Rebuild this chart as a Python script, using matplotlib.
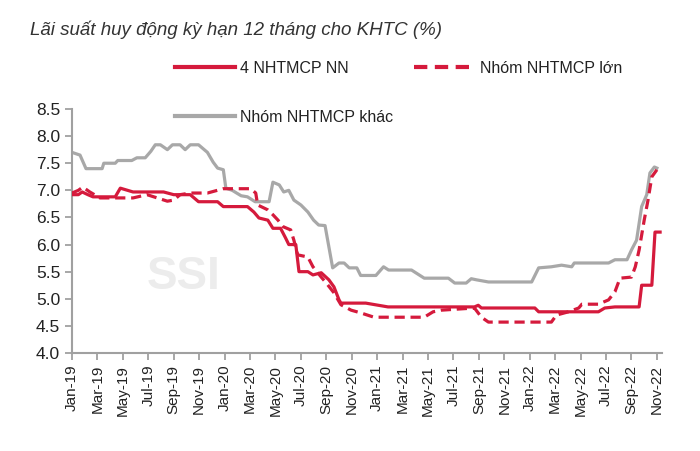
import numpy as np
import matplotlib.pyplot as plt

# số tháng tính từ Jan-19 (0 = đầu tháng 1/2019)
nn_m = [0, 0.5, 0.8, 1.25, 1.65, 3.4, 3.8, 4.8, 7.2, 8.0, 9.3, 9.95, 11.45, 11.9, 13.8, 14.3,
        14.7, 15.4, 15.8, 16.4, 16.8, 17.05, 17.6, 17.85, 18.55, 18.95, 19.6, 20.2, 20.6, 21.0,
        21.15, 23.1, 24.85, 31.65, 31.95, 32.2, 36.4, 36.7, 41.4, 41.9, 42.7, 44.6, 44.8, 45.6,
        45.85, 46.25]
nn_v = [6.92, 6.92, 6.97, 6.92, 6.88, 6.88, 7.04, 6.97, 6.97, 6.92, 6.92, 6.79, 6.79, 6.70, 6.70, 6.60,
        6.49, 6.45, 6.30, 6.30, 6.12, 6.00, 6.00, 5.50, 5.50, 5.44, 5.48, 5.35, 5.22, 4.98,
        4.92, 4.92, 4.85, 4.85, 4.88, 4.83, 4.83, 4.76, 4.76, 4.83, 4.85, 4.85, 5.25, 5.25,
        6.23, 6.23]

lon_m = [0, 0.5, 0.85, 1.4, 2.2, 4.8, 5.9, 6.7, 7.5, 8.0, 8.5, 9.3, 10.65, 11.9, 14.05, 14.45,
         14.6, 15.4, 15.8, 16.2, 16.6, 17.2, 17.45, 17.75, 18.55, 18.95, 19.6, 20.0, 20.6, 21.15,
         21.95, 22.7, 23.75, 27.7, 28.4, 29.05, 31.65, 32.2, 32.75, 37.7, 38.1, 39.05, 39.85, 40.1,
         41.4, 42.2, 42.7, 43.1, 44.0, 44.3, 44.6, 45.0, 45.3, 45.6, 46.0]
lon_v = [6.95, 7.00, 7.06, 6.97, 6.86, 6.86, 6.92, 6.86, 6.80, 6.82, 6.92, 6.95, 6.95, 7.03, 7.03, 6.95,
         6.73, 6.64, 6.55, 6.45, 6.33, 6.27, 6.08, 5.81, 5.77, 5.59, 5.40, 5.29, 5.11, 4.89,
         4.79, 4.74, 4.66, 4.66, 4.76, 4.79, 4.83, 4.66, 4.57, 4.57, 4.70, 4.76, 4.83, 4.90,
         4.90, 4.98, 5.13, 5.38, 5.40, 5.59, 5.90, 6.45, 6.82, 7.25, 7.38]

khac_m = [0, 0.63, 1.1, 2.37, 2.5, 3.4, 3.6, 4.7, 5.1, 5.76, 6.2, 6.55, 6.95, 7.5, 7.9, 8.5, 8.9,
          9.3, 9.95, 10.65, 11.1, 11.45, 11.9, 12.1, 12.6, 13.3, 13.8, 14.4, 15.5, 15.8, 16.3,
          16.65, 17.05, 17.45, 18.0, 18.55, 19.0, 19.4, 19.9, 20.5, 21.0, 21.4, 21.8, 22.4, 22.7,
          23.9, 24.5, 24.9, 26.7, 27.7, 29.6, 30.1, 31.0, 31.4, 31.8, 32.75, 36.15, 36.7, 37.7,
          38.5, 39.3, 39.5, 42.2, 42.7, 43.65, 44.0, 44.4, 44.8, 45.2, 45.45, 45.8, 46.0]
khac_v = [7.70, 7.65, 7.40, 7.40, 7.50, 7.50, 7.55, 7.55, 7.60, 7.60, 7.72, 7.84, 7.84, 7.75, 7.84, 7.84, 7.75,
          7.84, 7.84, 7.70, 7.52, 7.41, 7.38, 7.04, 7.00, 6.90, 6.88, 6.79, 6.79, 7.15, 7.10,
          6.97, 7.00, 6.82, 6.73, 6.60, 6.45, 6.36, 6.35, 5.57, 5.66, 5.66, 5.57, 5.57, 5.43,
          5.43, 5.59, 5.53, 5.53, 5.38, 5.38, 5.29, 5.29, 5.37, 5.35, 5.31, 5.31, 5.57, 5.59,
          5.62, 5.59, 5.66, 5.66, 5.72, 5.72, 5.90, 6.08, 6.70, 6.92, 7.32, 7.43, 7.41]

tick_labels = ['Jan-19', 'Mar-19', 'May-19', 'Jul-19', 'Sep-19', 'Nov-19',
               'Jan-20', 'Mar-20', 'May-20', 'Jul-20', 'Sep-20', 'Nov-20',
               'Jan-21', 'Mar-21', 'May-21', 'Jul-21', 'Sep-21', 'Nov-21',
               'Jan-22', 'Mar-22', 'May-22', 'Jul-22', 'Sep-22', 'Nov-22']

plt.rcParams['font.family'] = ['Liberation Sans', 'DejaVu Sans']
RED = '#D51A3C'
GRAY = '#A8A8A8'
AXC = '#A0A0A0'

fig = plt.figure(figsize=(7, 4.51), dpi=100)
ax = fig.add_axes([72 / 700, 1 - 353 / 451, 590 / 700, 244 / 451])

# watermark
ax.text(0.19, 0.31, 'SSI', transform=ax.transAxes, fontsize=33, fontweight='bold',
        color='#ECECEC', ha='center', va='center', zorder=0)

l1, = ax.plot(nn_m, nn_v, color=RED, lw=2.3, label='4 NHTMCP NN', zorder=3)
l2, = ax.plot(lon_m, lon_v, color=RED, lw=2.3, dashes=(3.2, 1.8), label='Nhóm NHTMCP lớn', zorder=3)
l3, = ax.plot(khac_m, khac_v, color=GRAY, lw=2.3, label='Nhóm NHTMCP khác', zorder=2)

ax.set_xlim(0, 46.4)
ax.set_ylim(4.0, 8.5)
ax.set_yticks(np.arange(4.0, 8.51, 0.5))
ax.set_yticklabels([f'{v:.1f}' for v in np.arange(4.0, 8.51, 0.5)])
ax.set_xticks(np.arange(0, 47, 2))
ax.set_xticklabels(tick_labels, rotation=90)

for s in ['top', 'right']:
    ax.spines[s].set_visible(False)
for s in ['left', 'bottom']:
    ax.spines[s].set_color(AXC)
    ax.spines[s].set_linewidth(1.5)
ax.tick_params(axis='both', colors=AXC, labelcolor='#222222', labelsize=12.5,
               length=5, width=1.3, direction='out')
ax.tick_params(axis='x', labelsize=11)

fig.text(30 / 700, 1 - 30 / 451, 'Lãi suất huy động kỳ hạn 12 tháng cho KHTC (%)',
         fontsize=13.5, style='italic', color='#333333', va='center', ha='left')

leg = fig.legend([l1, l3, l2], ['4 NHTMCP NN', 'Nhóm NHTMCP khác', 'Nhóm NHTMCP lớn'],
                 ncol=2, loc='upper left', bbox_to_anchor=(175 / 700, 1 - 61 / 451),
                 frameon=False, fontsize=11.5, handlelength=3.75, handletextpad=0.35,
                 labelspacing=2.1, columnspacing=1.3, borderpad=0, borderaxespad=0)
for t in leg.get_texts():
    t.set_color('#222222')
for h in leg.legend_handles:
    h.set_linewidth(3)

fig.savefig('out.png', dpi=100)
